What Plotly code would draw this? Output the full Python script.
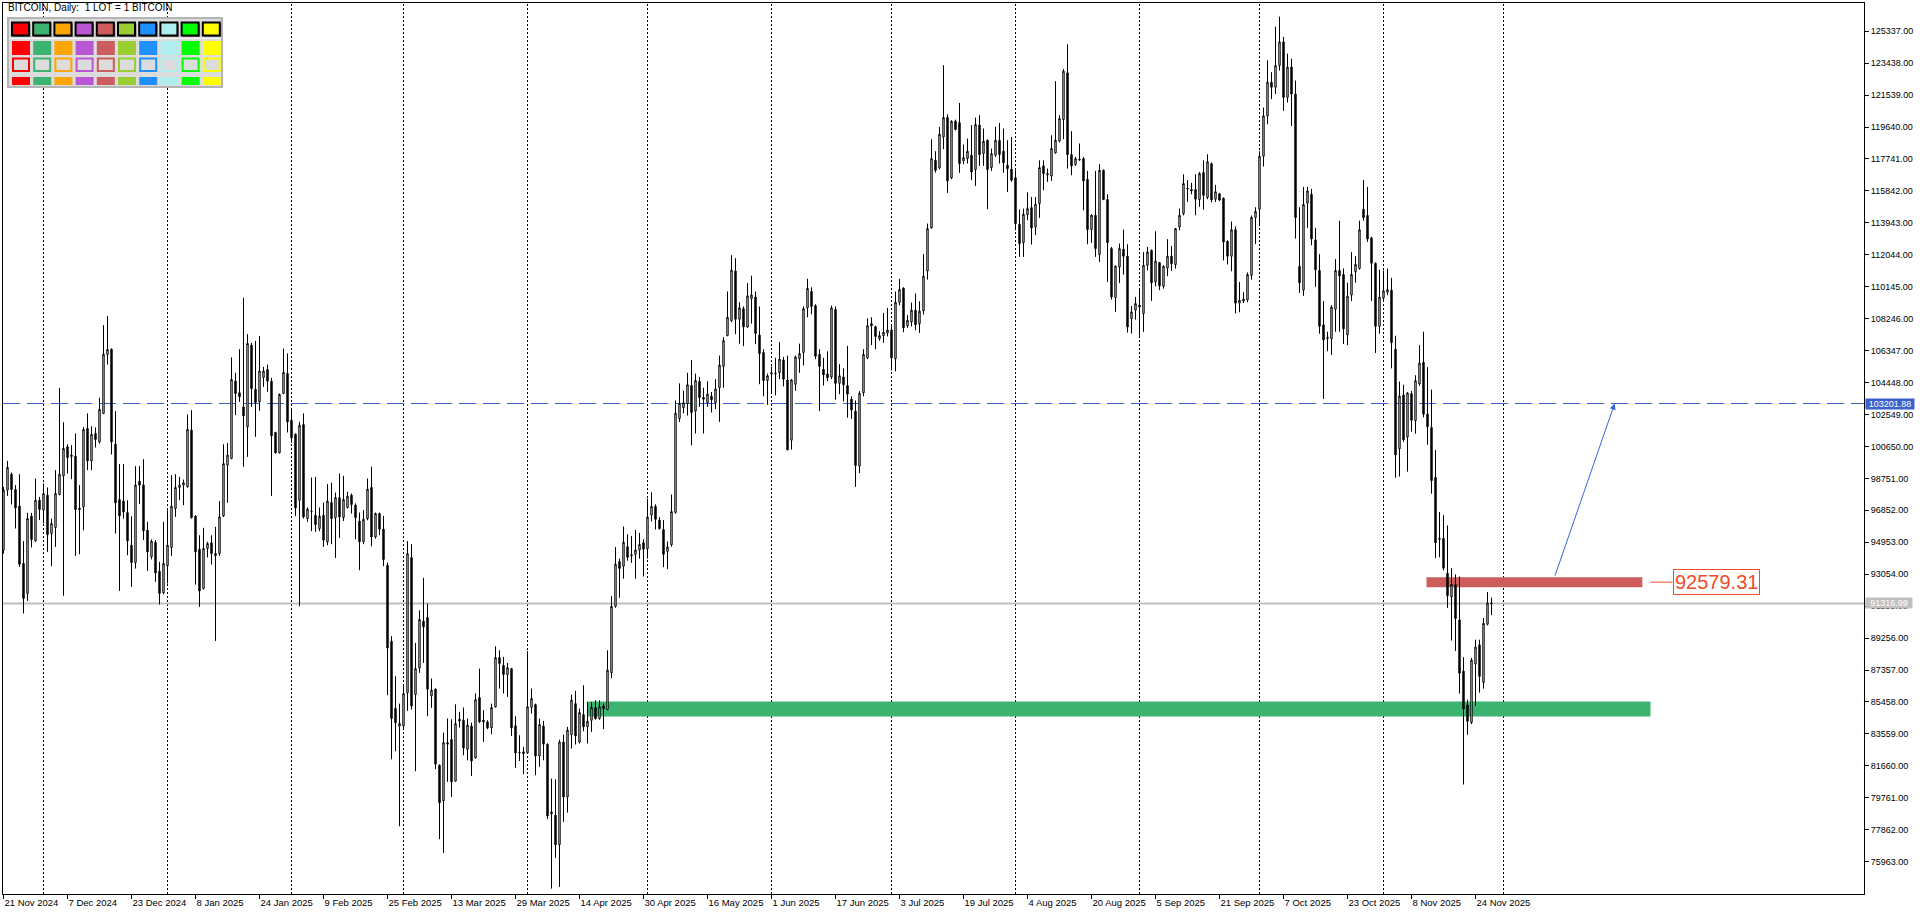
import pandas as pd
import plotly.graph_objects as go

# ---------------- data (daily candles, 21 Nov 2024 .. 28 Nov 2025) ----------------
start_date = "2024-11-21"

open_ = [
    94480, 98050, 99000, 98090, 97100, 93690, 91910, 96500, 95040, 97450,
    96860, 97750, 95470, 95830, 97790, 98900, 100630, 100130, 100070, 96980,
    97060, 101720, 99790, 101420, 100920, 102610, 106120, 106430, 100780, 97490,
    97400, 96720, 94780, 93750, 98580, 98350, 95670, 94090, 94940, 93230,
    91950, 93550, 94640, 96960, 98210, 98350, 98250, 101620, 96500, 94540,
    92200, 94580, 94920, 94280, 94280, 96520, 99540, 99930, 104530, 103840,
    103000, 101810, 106670, 104050, 103300, 104750, 105220, 104530, 101480, 100270,
    103800, 104990, 102210, 101380, 97450, 101950, 96360, 96800, 96560, 95770,
    96560, 94980, 97310, 96420, 97610, 96420, 97020, 97750, 97160, 96210,
    94980, 96360, 98210, 95270, 96660, 95730, 93590, 89070, 85070, 84020,
    84040, 86000, 94040, 85900, 87480, 90260, 90480, 85820, 86220, 81700,
    79580, 83040, 83220, 80750, 84430, 84370, 82650, 84020, 82130, 85720,
    84370, 84270, 83920, 85170, 88100, 87640, 87090, 87440, 84040, 82450,
    82490, 82430, 85130, 85300, 82250, 84020, 82950, 78920, 78720, 76980,
    83080, 79810, 83520, 85360, 83080, 84710, 83980, 84370, 85110, 84470,
    85220, 85010, 87200, 91140, 93800, 93530, 94690, 94210, 94240, 94490,
    94920, 94570, 96570, 97080, 96270, 95710, 94410, 94800, 96730, 102310,
    102950, 103200, 104270, 102750, 104520, 103560, 103250, 103630, 103250, 104140,
    105410, 107240, 108130, 111080, 108210, 108840, 107750, 109430, 109530, 107270,
    106230, 104570, 104960, 104980, 105030, 105790, 104600, 101020, 104350, 105870,
    106230, 108890, 109860, 109020, 106120, 105230, 104960, 104780, 108790, 104400,
    104780, 104270, 103460, 102750, 99490, 103840, 105920, 107950, 107770, 107060,
    107240, 107390, 107570, 105870, 109220, 110060, 107830, 108050, 108750, 107950,
    108710, 111080, 113640, 117660, 117210, 119050, 120200, 116610, 119980, 119900,
    117630, 117760, 117960, 117110, 119750, 118060, 118850, 117230, 117960, 118850,
    118200, 117370, 117130, 116630, 113860, 112770, 114430, 114850, 113700, 115090,
    117330, 116870, 116730, 118100, 118810, 120080, 122860, 118000, 117410, 117720,
    117760, 116520, 113540, 114390, 112060, 117070, 115330, 112410, 109500, 111320,
    112370, 111960, 108250, 108750, 109040, 108550, 111420, 112310, 110430, 111580,
    110170, 111260, 111960, 111460, 113700, 114490, 116000, 115920, 115920, 115330,
    116930, 115450, 117460, 115350, 115670, 115400, 112850, 111960, 113530, 109170,
    109290, 109360, 110820, 114260, 114750, 117900, 120300, 122300, 122000, 123300,
    124700, 121400, 123200, 121600, 111350, 109940, 115110, 115640, 112930, 111110,
    107880, 107130, 107060, 108800, 111110, 110870, 107280, 109650, 111040, 111230,
    114750, 114380, 113050, 111540, 107790, 109480, 109820, 109940, 106430, 100510,
    103710, 101210, 103780, 102180, 104370, 105650, 102570, 101770, 98810, 95180,
    95180, 93110, 91710, 92440, 90330, 87290, 85280, 84240, 87710, 88850,
    86620, 90080, 91340,
]

high = [
    98250, 99790, 99100, 98350, 99000, 95020, 96700, 96700, 98740, 97650,
    98450, 98210, 96360, 99240, 104130, 102090, 100780, 100730, 101420, 98350,
    101800, 102610, 101850, 101780, 103540, 107860, 108400, 106470, 102750, 99600,
    99600, 97450, 96500, 99480, 99480, 99890, 96170, 95120, 95080, 93790,
    96170, 96860, 98940, 99000, 98840, 98680, 102550, 102810, 96560, 95370,
    95810, 94980, 95370, 95870, 97400, 100780, 100860, 105940, 105030, 106430,
    109490, 107330, 106810, 106930, 107210, 105380, 105520, 104730, 101520, 103800,
    106470, 106180, 102810, 101420, 102110, 102610, 97020, 98800, 98840, 97020,
    97310, 98410, 98500, 97910, 99040, 98900, 97950, 97850, 97260, 96720,
    96860, 98740, 99440, 96720, 96720, 96520, 93750, 89370, 86990, 85360,
    86490, 95020, 94840, 88970, 90910, 92840, 91310, 86850, 86260, 81740,
    83640, 84470, 84430, 85320, 84870, 85130, 84470, 84230, 85960, 87440,
    84970, 84370, 85360, 88770, 88530, 88140, 87780, 87480, 84610, 83480,
    82790, 88480, 86260, 85360, 84470, 84330, 82990, 80900, 80860, 83220,
    83520, 83980, 85900, 86120, 85070, 86450, 85460, 85460, 85560, 85560,
    85360, 88530, 91750, 94670, 93980, 95890, 95430, 95330, 95680, 95510,
    95130, 97540, 97920, 97210, 96450, 96270, 95000, 97790, 103380, 104400,
    103960, 105030, 105790, 104980, 104780, 104140, 104520, 103890, 104650, 106050,
    107140, 109860, 112020, 111840, 109220, 108970, 110370, 110800, 109860, 108970,
    106430, 104980, 105410, 105920, 106860, 105970, 106050, 104650, 106050, 106760,
    108970, 110620, 110110, 109100, 106430, 105920, 106300, 109020, 108970, 105540,
    105290, 106630, 103630, 103380, 103940, 106430, 108260, 108330, 107830, 107500,
    108590, 108890, 107830, 109860, 110620, 110110, 108460, 109200, 109740, 109280,
    112080, 113900, 118910, 118200, 119650, 123310, 120400, 120040, 120080, 121070,
    118600, 118950, 119750, 120200, 120340, 119550, 118890, 118360, 119650, 119880,
    119550, 118850, 119050, 117070, 114730, 114790, 115760, 115480, 115480, 117660,
    117660, 117170, 119150, 122360, 120340, 123080, 124560, 119390, 117860, 118660,
    117860, 117030, 114450, 117030, 117430, 117110, 115640, 112510, 111420, 112710,
    113540, 112670, 109000, 109540, 109940, 112210, 112510, 112360, 113440, 111620,
    111420, 112970, 112570, 113640, 114790, 116830, 116480, 116320, 116830, 116970,
    117660, 118020, 117530, 116200, 115720, 115450, 112900, 114020, 113730, 110430,
    109820, 110990, 114380, 114870, 118200, 120800, 123600, 122900, 125600, 126200,
    125000, 124000, 123700, 122400, 114870, 116080, 116080, 115960, 113650, 112080,
    109290, 107470, 109050, 111790, 114070, 111230, 110380, 112200, 111960, 114070,
    116490, 116080, 113120, 111590, 111160, 111110, 111230, 110670, 107230, 104510,
    104320, 103880, 103950, 104880, 106670, 107470, 105360, 104030, 100440, 96750,
    96560, 95950, 93410, 93040, 92920, 88120, 85600, 88070, 89160, 89160,
    90450, 92000, 91660,
]

low = [
    94280, 97710, 97200, 95770, 93490, 90720, 91470, 94640, 94980, 96270,
    96070, 94380, 93530, 94680, 97750, 91770, 99040, 98700, 94140, 94240,
    95670, 99240, 99240, 100590, 100820, 102570, 105520, 100170, 95470, 92060,
    96360, 94180, 92300, 93390, 97220, 95080, 93250, 93930, 92600, 91250,
    91850, 92500, 94140, 96460, 97450, 97160, 98200, 96360, 92440, 91110,
    92140, 94050, 93630, 89090, 94140, 96460, 97300, 99890, 102510, 103300,
    99440, 100030, 103000, 101220, 102770, 104190, 103900, 97710, 100230, 100230,
    103760, 101480, 100860, 96500, 91150, 96360, 96170, 95610, 95570, 95610,
    94680, 94780, 94840, 94020, 95210, 96220, 96960, 96660, 95130, 93290,
    94840, 96260, 94720, 95170, 95370, 93530, 85860, 82050, 82530, 78070,
    83780, 84930, 85010, 81340, 87190, 87780, 84610, 85110, 81460, 77300,
    76480, 80710, 79810, 80710, 83940, 82290, 81990, 81060, 82090, 84210,
    83080, 83840, 83540, 85130, 86260, 85960, 85760, 83440, 81540, 81950,
    81160, 82390, 84770, 81100, 81600, 81990, 78490, 74360, 76190, 74460,
    78330, 78880, 82690, 82930, 82990, 83720, 82990, 83680, 84410, 84410,
    83840, 84970, 86870, 91060, 91650, 92790, 93860, 93730, 92790, 93980,
    92920, 93980, 96190, 95710, 95710, 93470, 93350, 94690, 96650, 102110,
    102620, 102490, 100710, 101420, 103000, 101420, 103000, 102670, 102870, 102110,
    104140, 107200, 108030, 107320, 106760, 106610, 107700, 107950, 106730, 104350,
    103630, 103130, 103760, 103690, 104650, 104220, 100410, 100460, 103960, 105030,
    105460, 108330, 108510, 105840, 102750, 104270, 104520, 104650, 103430, 103760,
    103330, 102360, 102290, 98250, 99060, 103630, 105840, 106680, 106430, 106940,
    106810, 107190, 105160, 105110, 109040, 107440, 107700, 107790, 107560, 107400,
    108490, 110570, 113600, 116930, 117130, 118320, 115720, 116540, 119450, 116910,
    117430, 117470, 116480, 116140, 117330, 117330, 114750, 117030, 117860, 117470,
    116910, 115780, 116380, 113500, 111920, 111920, 114100, 112650, 113210, 114240,
    115880, 116380, 116440, 118060, 118720, 118910, 117170, 116770, 117330, 117640,
    114690, 112670, 112750, 111920, 111620, 115290, 110430, 109380, 108650, 110370,
    110870, 107420, 107360, 108190, 107220, 107460, 111120, 109300, 110170, 109940,
    110030, 110770, 111080, 111220, 113500, 114390, 115190, 115640, 114390, 114890,
    114730, 115350, 115160, 115180, 115230, 111710, 111470, 111060, 108560, 108630,
    109170, 109220, 110570, 112680, 113730, 117290, 119800, 121300, 121600, 123000,
    120600, 121100, 119700, 113000, 109770, 109600, 113650, 112610, 110140, 107350,
    103470, 106310, 106090, 107470, 107470, 106740, 106670, 109290, 110380, 111160,
    114070, 112810, 109290, 106210, 107350, 109290, 109650, 105290, 98790, 98860,
    100920, 99150, 101530, 101410, 104250, 102380, 100750, 97840, 94010, 94060,
    93280, 91050, 89110, 88490, 85960, 80550, 83510, 84140, 85230, 86010,
    86250, 90010, 90620,
]

close = [
    98050, 99400, 98090, 97000, 93650, 91610, 96360, 95120, 97450, 96900,
    97850, 95410, 96070, 97850, 99000, 100530, 99990, 100070, 96900, 96900,
    101660, 99790, 101360, 101060, 102850, 106140, 106410, 100920, 97300, 96520,
    96760, 95040, 93750, 98350, 98350, 95630, 94380, 95020, 93130, 91910,
    93690, 94780, 97100, 98210, 98350, 98490, 101660, 96420, 94380, 92060,
    94580, 94880, 94280, 94160, 96460, 99630, 100130, 104630, 103800, 103600,
    102470, 106770, 104090, 103260, 105130, 105130, 104530, 101280, 100270, 103740,
    105050, 102110, 101160, 97000, 101910, 96460, 96920, 96790, 96010, 96500,
    95080, 97390, 96360, 97610, 96460, 97490, 97690, 97200, 96420, 94980,
    96320, 98110, 95270, 96660, 95730, 93930, 88670, 84470, 84230, 84170,
    85960, 94280, 85220, 87440, 90360, 89920, 86220, 86160, 81760, 79460,
    83040, 82950, 80710, 84170, 84330, 82730, 84080, 81950, 85600, 84270,
    84270, 83920, 85130, 88100, 87740, 87090, 87500, 83920, 82430, 82430,
    82390, 85170, 85660, 82250, 84110, 82950, 78680, 78820, 76980, 83080,
    79810, 83780, 85560, 83440, 84830, 83980, 84310, 85130, 84470, 85170,
    85070, 87350, 91140, 93650, 93400, 94950, 94060, 94160, 94490, 94820,
    94540, 96450, 97080, 96320, 95760, 94240, 94670, 96780, 102620, 103200,
    103250, 104320, 102670, 104570, 103560, 103460, 103760, 103430, 104070, 105490,
    106940, 108330, 111130, 108210, 108890, 107750, 109600, 109650, 107370, 106170,
    104570, 104850, 105030, 104960, 105840, 104650, 100460, 104600, 105970, 106170,
    108840, 110040, 108970, 106010, 105410, 104900, 104730, 108890, 104400, 104850,
    104320, 103760, 102820, 99520, 103810, 106120, 107830, 107830, 107190, 107240,
    107440, 107570, 105920, 109220, 109980, 107700, 108150, 108750, 107890, 108690,
    110770, 113600, 117760, 117070, 119210, 120200, 116440, 119980, 119490, 117470,
    117820, 118200, 116970, 119790, 118000, 118790, 117110, 118060, 118850, 118000,
    117510, 117170, 116480, 113900, 112710, 114450, 114790, 113640, 115050, 117230,
    116870, 116810, 118360, 118850, 120140, 122960, 118000, 117330, 117760, 117680,
    116440, 113540, 114390, 112410, 117070, 115330, 112770, 109540, 111360, 112410,
    111960, 107750, 108650, 109140, 108940, 111420, 112210, 110370, 111660, 110190,
    111360, 111960, 111520, 113600, 114390, 116280, 115960, 115840, 115350, 116870,
    115580, 117570, 115300, 115790, 115300, 112810, 111960, 113530, 109170, 109340,
    109410, 110870, 114260, 114620, 117900, 120300, 122300, 122000, 123300, 124700,
    121400, 123200, 121600, 114260, 110380, 115040, 115840, 112980, 111160, 107790,
    106990, 107080, 108930, 111110, 110790, 107640, 109580, 110870, 111470, 113530,
    114260, 112980, 111540, 107790, 109530, 109900, 109970, 106820, 100150, 103640,
    101040, 103830, 102210, 104560, 105600, 102570, 101820, 98620, 94930, 95130,
    93410, 91780, 92440, 90420, 87170, 85040, 84310, 87950, 88720, 86980,
    90130, 91340, 91316.99,
]

# axis labels
price_ticks = [75963 + 1899 * k for k in range(27)]
date_tick_vals = ["2024-11-21", "2024-12-07", "2024-12-23", "2025-01-08", "2025-01-24",
                  "2025-02-09", "2025-02-25", "2025-03-13", "2025-03-29", "2025-04-14",
                  "2025-04-30", "2025-05-16", "2025-06-01", "2025-06-17", "2025-07-03",
                  "2025-07-19", "2025-08-04", "2025-08-20", "2025-09-05", "2025-09-21",
                  "2025-10-07", "2025-10-23", "2025-11-08", "2025-11-24"]
date_tick_text = ["21 Nov 2024", "7 Dec 2024", "23 Dec 2024", "8 Jan 2025", "24 Jan 2025",
                  "9 Feb 2025", "25 Feb 2025", "13 Mar 2025", "29 Mar 2025", "14 Apr 2025",
                  "30 Apr 2025", "16 May 2025", "1 Jun 2025", "17 Jun 2025", "3 Jul 2025",
                  "19 Jul 2025", "4 Aug 2025", "20 Aug 2025", "5 Sep 2025", "21 Sep 2025",
                  "7 Oct 2025", "23 Oct 2025", "8 Nov 2025", "24 Nov 2025"]
month_lines = ["2024-12-01", "2025-01-01", "2025-02-01", "2025-03-01", "2025-04-01",
               "2025-05-01", "2025-06-01", "2025-07-01", "2025-08-01", "2025-09-01",
               "2025-10-01", "2025-11-01", "2025-12-01"]

# levels / drawn objects
bid_price = 91316.99
target_price = 103201.88
red_level = 92579.31
red_zone = dict(x0="2025-11-11 18:00", x1="2026-01-04 17:00", y0=92280, y1=92880)
green_zone = dict(x0="2025-04-15 21:36", x1="2026-01-06 18:00", y0=84600, y1=85490)
red_leader = dict(x0="2026-01-06 18:00", x1="2026-01-12 06:00")
arrow_tail = ("2025-12-13 18:00", 92880)
arrow_head = ("2025-12-28 19:00", target_price)
palette_colors = ["#FF0000", "#3CB371", "#FFA500", "#BA55D3", "#CD5C5C",
                  "#9ACD32", "#1E90FF", "#AFEEEE", "#00FF00", "#FFFF00"]

# ---------------- figure ----------------
W_PX, H_PX = 1920, 915
ML, MR, MT, MB = 3, 56, 3, 21
PW, PH = W_PX - ML - MR, H_PX - MT - MB


def pxx(x):
    return (x - ML) / PW


def pxy(y):
    return 1 - (y - MT) / PH


dates = pd.date_range(start_date, periods=len(open_), freq="D")
FONT = "Liberation Sans"

fig = go.Figure()
fig.add_trace(go.Candlestick(
    x=dates, open=open_, high=high, low=low, close=close,
    increasing=dict(line=dict(color="black", width=1), fillcolor="white"),
    decreasing=dict(line=dict(color="black", width=1), fillcolor="black"),
    whiskerwidth=0, hoverinfo="skip", showlegend=False,
))

shapes = []
for m in month_lines:
    shapes.append(dict(type="line", xref="x", yref="paper", x0=m, x1=m, y0=0, y1=1,
                       line=dict(color="black", width=1, dash="2px,2px"), layer="below"))
shapes.append(dict(type="line", xref="paper", yref="y", x0=0, x1=1, y0=bid_price, y1=bid_price,
                   line=dict(color="#C0C0C0", width=2), layer="below"))
shapes.append(dict(type="line", xref="paper", yref="y", x0=0, x1=1, y0=target_price, y1=target_price,
                   line=dict(color="#3A62CC", width=1, dash="17px,7px"), layer="below"))
shapes.append(dict(type="rect", xref="x", yref="y", **green_zone,
                   fillcolor="#3CB371", line=dict(width=0), layer="below"))
shapes.append(dict(type="rect", xref="x", yref="y", **red_zone,
                   fillcolor="#CD5C5C", line=dict(width=0), layer="below"))
shapes.append(dict(type="line", xref="x", yref="y", x0=red_leader["x0"], x1=red_leader["x1"],
                   y0=red_level, y1=red_level, line=dict(color="#EE4B2B", width=1)))

# colour palette panel (top-left)
shapes.append(dict(type="rect", xref="paper", yref="paper", x0=pxx(8), x1=pxx(222),
                   y0=pxy(87), y1=pxy(18), fillcolor="#DCDCDC",
                   line=dict(color="#B4B4B4", width=2)))
shapes.append(dict(type="line", xref="paper", yref="paper", x0=pxx(9), x1=pxx(221),
                   y0=pxy(38.5), y1=pxy(38.5), line=dict(color="#F4F4F4", width=1)))
for i, col in enumerate(palette_colors):
    x0 = 12 + i * 21.2
    # row 1 : framed squares with shadow
    shapes.append(dict(type="rect", xref="paper", yref="paper", x0=pxx(x0 + 1.5), x1=pxx(x0 + 18.5),
                       y0=pxy(37), y1=pxy(23.5), fillcolor="#7A7A7A", line=dict(width=0)))
    shapes.append(dict(type="rect", xref="paper", yref="paper", x0=pxx(x0), x1=pxx(x0 + 17),
                       y0=pxy(35.5), y1=pxy(22.5), fillcolor=col, line=dict(color="black", width=2)))
    # row 2 : filled
    shapes.append(dict(type="rect", xref="paper", yref="paper", x0=pxx(x0), x1=pxx(x0 + 18),
                       y0=pxy(55), y1=pxy(41), fillcolor=col, line=dict(width=0)))
    # row 3 : outlined
    shapes.append(dict(type="rect", xref="paper", yref="paper", x0=pxx(x0 + 1), x1=pxx(x0 + 17),
                       y0=pxy(71), y1=pxy(58.5), fillcolor="#DCDCDC", line=dict(color=col, width=2)))
    # row 4 : filled, thin
    shapes.append(dict(type="rect", xref="paper", yref="paper", x0=pxx(x0), x1=pxx(x0 + 18),
                       y0=pxy(85), y1=pxy(77), fillcolor=col, line=dict(width=0)))

annotations = [
    dict(xref="paper", yref="paper", x=pxx(6), y=pxy(8), xanchor="left", yanchor="middle",
         text="BITCOIN, Daily:\u00a0 1 LOT = 1 BITCOIN", showarrow=False,
         font=dict(family=FONT, size=10, color="black")),
    dict(xref="paper", yref="y", x=1, y=target_price, xanchor="left", yanchor="middle", xshift=1,
         text="103201.88", showarrow=False, bgcolor="#3A62CC", width=48, height=10, borderpad=0,
         font=dict(family=FONT, size=9, color="white")),
    dict(xref="paper", yref="y", x=1, y=bid_price, xanchor="left", yanchor="middle", xshift=1,
         text="91316.99", showarrow=False, bgcolor="#C0C0C0", width=46, height=10, borderpad=0,
         font=dict(family=FONT, size=9, color="white")),
    dict(xref="x", yref="y", x=red_leader["x1"], y=red_level, xanchor="left", yanchor="middle",
         text="92579.31", showarrow=False, bgcolor="white", bordercolor="#EE4B2B", borderwidth=1,
         borderpad=1, font=dict(family=FONT, size=20, color="#EE4B2B")),
    dict(xref="x", yref="y", x=arrow_head[0], y=arrow_head[1], axref="x", ayref="y",
         ax=arrow_tail[0], ay=arrow_tail[1], text="", showarrow=True, arrowhead=2,
         arrowsize=1.2, arrowwidth=1, arrowcolor="#3A66D6"),
]

fig.update_layout(
    width=W_PX, height=H_PX,
    margin=dict(l=ML, r=MR, t=MT, b=MB, pad=0),
    paper_bgcolor="white", plot_bgcolor="white",
    showlegend=False, boxgap=0.5,
    font=dict(family=FONT, size=9, color="black"),
    shapes=shapes, annotations=annotations,
    xaxis=dict(type="date", range=["2024-11-20 21:00", "2026-03-01 03:00"],
               rangeslider=dict(visible=False), showgrid=False, zeroline=False,
               showline=True, linecolor="black", linewidth=1, mirror=True,
               tickmode="array", tickvals=date_tick_vals, ticktext=date_tick_text,
               ticks="outside", ticklen=4, tickcolor="black", tickwidth=1,
               ticklabelposition="outside right",
               tickfont=dict(family=FONT, size=9.5, color="black"), fixedrange=True),
    yaxis=dict(range=[74042, 127012], side="right", showgrid=False, zeroline=False,
               showline=True, linecolor="black", linewidth=1, mirror=True,
               tickmode="array", tickvals=price_ticks,
               ticktext=[f"{v:.2f}" for v in price_ticks],
               ticks="outside", ticklen=4, tickcolor="black", tickwidth=1,
               tickfont=dict(family=FONT, size=9, color="black"), fixedrange=True),
)

fig.write_html("out.html", config={"displayModeBar": False},
               post_script="document.body.style.margin='0';document.body.style.overflow='hidden';")
